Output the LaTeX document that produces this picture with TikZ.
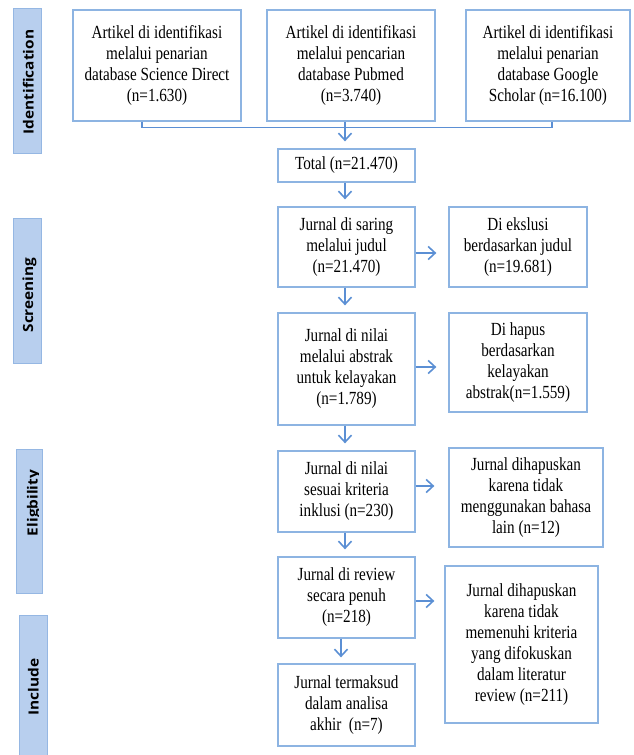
\documentclass[tikz,border=0pt]{standalone}
\usepackage{fontspec}
\setmainfont[FakeStretch=0.82]{Liberation Serif}
\newfontfamily\barfont[FakeStretch=1.1]{Open Sans}
\usetikzlibrary{arrows.meta}
\definecolor{boxc}{RGB}{141,180,226}
\definecolor{linec}{RGB}{91,143,212}
\definecolor{barfill}{RGB}{184,207,238}
\definecolor{barborder}{RGB}{149,183,227}
\begin{document}
\begin{tikzpicture}[x=1pt,y=-1pt,
  box/.style={draw=boxc, line width=1.3pt, align=center, inner sep=0pt,
    font=\fontsize{18.5}{21}\selectfont},
  conn/.style={draw=linec, line width=1.6pt},
  arr/.style={conn, -{Straight Barb[length=7pt,width=13pt]}},
  bar/.style={draw=barborder, line width=1pt, fill=barfill, inner sep=0pt},
  barlabel/.style={rotate=90, anchor=base, inner sep=0pt,
    font=\barfont\bfseries\fontsize{14}{16}\selectfont}]
\useasboundingbox (0,0) rectangle (633,755);

% side bars
\node[bar, minimum width=28, minimum height=145] (idbar) at (27,80.5) {};
\node[barlabel] (idlab) at (33.5,82) {Identification};
\node[bar, minimum width=28, minimum height=145] (scbar) at (27,290.5) {};
\node[barlabel] (sclab) at (33,295) {Screening};
\node[bar, minimum width=26, minimum height=144] (elbar) at (29,521) {};
\begin{scope}
  \clip (16,449) rectangle (38.5,593);
  \node[barlabel] (ellab) at (37.5,503) {Eligbility};
\end{scope}
\node[bar, minimum width=28, minimum height=150] (inbar) at (33,690) {};
\node[barlabel] (inlab) at (38.5,687) {Include};

% identification boxes
\node[box, minimum width=168, minimum height=111] (A) at (157,65.5)
  {Artikel di identifikasi\\melalui penarian\\database Science Direct\\(n=1.630)};
\node[box, minimum width=168, minimum height=111] (B) at (351,65.5)
  {Artikel di identifikasi\\melalui pencarian\\database Pubmed\\(n=3.740)};
\node[box, minimum width=164, minimum height=111] (C) at (548,65.5)
  {Artikel di identifikasi\\melalui penarian\\database Google\\Scholar (n=16.100)};
\node[box, minimum width=137, minimum height=33] (T) at (346.5,165.5)
  {Total (n=21.470)};

% main column
\node[box, minimum width=137, minimum height=80] (S1) at (346.5,247)
  {Jurnal di saring\\melalui judul\\(n=21.470)};
\node[box, minimum width=137, minimum height=112] (S2) at (346.5,369)
  {Jurnal di nilai\\melalui abstrak\\untuk kelayakan\\(n=1.789)};
\node[box, minimum width=137, minimum height=81] (S3) at (346.5,491.5)
  {Jurnal di nilai\\sesuai kriteria\\inklusi (n=230)};
\node[box, minimum width=137, minimum height=81] (S4) at (346.5,597.5)
  {Jurnal di review\\secara penuh\\(n=218)};
\node[box, minimum width=137, minimum height=82] (S5) at (346.5,705)
  {Jurnal termaksud\\dalam analisa\\akhir~~(n=7)};

% exclusion column
\node[box, minimum width=138, minimum height=80] (E1) at (518,247)
  {Di ekslusi\\berdasarkan judul\\(n=19.681)};
\node[box, minimum width=138, minimum height=99] (E2) at (518,362.5)
  {Di hapus\\berdasarkan\\kelayakan\\abstrak(n=1.559)};
\node[box, minimum width=154, minimum height=99] (E3) at (526,497.5)
  {Jurnal dihapuskan\\karena tidak\\menggunakan bahasa\\lain (n=12)};
\node[box, minimum width=153, minimum height=157] (E4) at (521.5,644.5)
  {Jurnal dihapuskan\\karena tidak\\memenuhi kriteria\\yang difokuskan\\dalam literatur\\review (n=211)};

% connectors
\draw[conn] ([xshift=-15pt]A.south) -- ++(0,6) -| ([xshift=4pt]C.south);
\draw[arr, shorten >=7pt] ([xshift=-6pt]B.south) -- ([xshift=-6pt]B.south |- T.north);
\draw[arr, shorten >=7pt] ([xshift=-1.5pt]T.south) -- ([xshift=-1.5pt]S1.north);
\draw[arr, shorten >=7pt] ([xshift=-1.5pt]S1.south) -- ([xshift=-1.5pt]S2.north);
\draw[arr, shorten >=7pt] ([xshift=-1.5pt]S2.south) -- ([xshift=-1.5pt]S3.north);
\draw[arr, shorten >=7pt] ([xshift=-1.5pt]S3.south) -- ([xshift=-1.5pt]S4.north);
\draw[arr, shorten >=6pt] ([xshift=-5.5pt]S4.south) -- ([xshift=-5.5pt]S5.north);

\draw[arr, shorten >=12pt] ([yshift=-6pt]S1.east) -- ([yshift=-6pt]S1.east -| E1.west);
\draw[arr, shorten >=12pt] ([yshift=2pt]S2.east) -- ([yshift=2pt]S2.east -| E2.west);
\draw[arr, shorten >=14pt] ([yshift=5.5pt]S3.east) -- ([yshift=5.5pt]S3.east -| E3.west);
\draw[arr, shorten >=10pt] ([yshift=-3.5pt]S4.east) -- ([yshift=-3.5pt]S4.east -| E4.west);
\end{tikzpicture}
\end{document}
